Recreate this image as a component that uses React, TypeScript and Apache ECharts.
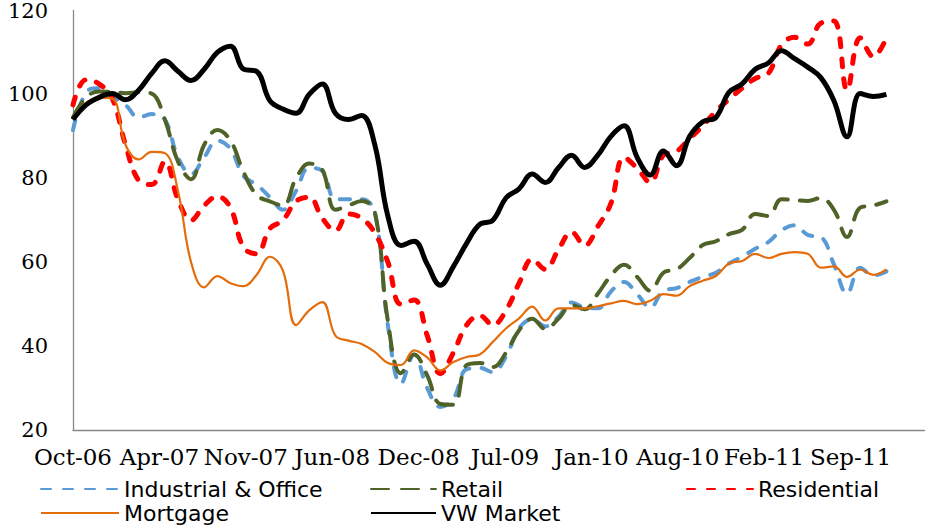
import React, { useEffect, useRef } from "react";
import * as echarts from "echarts";

// Monthly index values, Oct-06 (index 0) .. Dec-11 (index 62)
const industrialOffice = [
  91.5, 100.5, 101.5, 99.5, 97.5, 94.5, 95.3, 94, 85, 81,
  85, 89, 87, 80.5, 78.5, 75.5, 72.5, 77, 82.5, 81.8,
  75, 75, 75, 72, 45, 31, 38, 30, 25.5, 27.5,
  34.5, 34.8, 33.8, 37.5, 44.2, 46.4, 44.7, 47, 50.4, 49.2,
  49, 53, 55.3, 52.4, 49.2, 53.2, 53.8, 55.3, 56.5, 57.5,
  59.7, 61.3, 63.2, 64.8, 67.6, 68.8, 66.5, 66, 59.5, 52.5,
  58.7, 56.8, 57.8,
];
const retail = [
  94.5, 99.3, 100.7, 100.6, 100.3, 100.5, 100.2, 94, 84, 79.8,
  88, 91.5, 89, 81.5, 76, 74.5, 73.5, 80, 83.5, 82,
  72.5, 73.5, 74.6, 72, 46, 33.5, 38, 33, 26.2, 26,
  35.5, 36, 35, 38.4, 43.8, 46.5, 44.1, 46.5, 49.8, 48.8,
  52.5, 56.8, 59.4, 56.5, 53.2, 57.5, 58.3, 61, 64.1, 65,
  66.7, 67.7, 71.5, 71, 75, 74.8, 74.6, 75.3, 72.5, 66,
  73, 73.5, 74.5,
];
const residential = [
  97.5, 103.5, 102.5, 99, 88, 79.5, 78.5, 84, 75, 70,
  73.5, 75.7, 73, 63.5, 62, 68, 70, 74.5, 75.5, 70.5,
  67.5, 71.5, 70.5, 67, 60, 50, 51, 42.5, 33.4, 38.5,
  45, 47.3, 45, 48.5, 55, 60.7, 58.3, 63, 67.2, 64,
  68.5, 74, 85, 82.4, 79, 85.5, 86.4, 89.5, 92.5, 96,
  98.8, 101.5, 103.8, 105, 111.8, 113.6, 112, 117, 117.5, 101,
  113.5, 109, 113.5,
];
const mortgage = [
  94.5, 98, 99.2, 99, 88, 84.5, 86.3, 86, 77, 60,
  54, 56.7, 55, 54.3, 57, 61.3, 58, 45, 48.5, 50.5,
  42.5, 41.3, 40.5, 38.6, 36, 35.5, 39, 37.3, 34.2, 36.2,
  37.4, 38, 41, 44.2, 46.6, 49.4, 46.1, 49, 49, 49,
  49.5, 50.2, 50.8, 50, 50.8, 52.4, 52, 54.3, 55.6, 56.7,
  59.7, 60.3, 62, 61, 62, 62.4, 62, 58.7, 59, 56.5,
  58.2, 57, 58.3,
];
const vwMarket = [
  94, 97.5, 99.3, 100.2, 98.7, 101, 105, 108, 105.5, 103.3,
  106, 110, 111.5, 106, 105.5, 98.5, 96.5, 95.5, 100, 102.5,
  95.5, 94, 95, 88, 71, 64, 65, 59.5, 54.5, 59,
  64.5, 69, 70, 75.3, 77.5, 81, 79, 82.5, 85.5, 82.6,
  85.5, 90, 92.5, 85, 80.8, 86.5, 83, 90, 93.5, 94.5,
  100.5, 102.5, 106, 107.5, 110.4, 108.5, 106.5, 104, 98.5, 89.9,
  100.2, 99.5, 100,
];

const xTickLabels = [
  "Oct-06", "Apr-07", "Nov-07", "Jun-08", "Dec-08",
  "Jul-09", "Jan-10", "Aug-10", "Feb-11", "Sep-11",
];
const yTicks = [20, 40, 60, 80, 100, 120];

const LABEL_STEP = 6.585; // months between tick labels
const X_MAX = 64.94;

const toPairs = (arr: number[]) => arr.map((v, i) => [i, v]);

export default function App() {
  const ref = useRef<HTMLDivElement>(null);

  useEffect(() => {
    if (!ref.current) return;
    const chart = echarts.init(ref.current, null, { renderer: "svg" });
    const legendText = { fontFamily: "DejaVu Sans", fontSize: 22, color: "#000", lineHeight: 24 };
    const legendItem = (name: string, left: number, top: number, w: number) => ({
      left, top, padding: 0, itemWidth: w, itemHeight: 14, itemGap: 0,
      itemStyle: { opacity: 0 },
      textStyle: legendText, data: [name],
    });
    chart.setOption({
      animation: false,
      backgroundColor: "#fff",
      grid: { left: 73, top: 7, right: 0, bottom: 97 },
      xAxis: {
        type: "value",
        min: 0,
        max: X_MAX,
        interval: LABEL_STEP,
        axisLine: { show: true, lineStyle: { color: "#888", width: 1.3 } },
        axisTick: { show: false },
        splitLine: { show: false },
        axisLabel: {
          fontFamily: "DejaVu Serif", fontSize: 23, color: "#000",
          margin: 15,
          showMaxLabel: false,
          formatter: (v: number) => {
            const k = Math.round(v / LABEL_STEP);
            if (Math.abs(v - k * LABEL_STEP) > 0.01) return "";
            return xTickLabels[k] ?? "";
          },
        },
      },
      yAxis: {
        type: "value",
        min: yTicks[0],
        max: yTicks[yTicks.length - 1],
        interval: 20,
        axisLine: { show: true, lineStyle: { color: "#888", width: 1.3 } },
        axisTick: { show: false },
        splitLine: { show: false },
        axisLabel: { fontFamily: "DejaVu Serif", fontSize: 21, color: "#000", margin: 25 },
      },
      legend: [
        legendItem("Industrial & Office", 40, 477, 78),
        legendItem("Mortgage", 40, 501, 78),
        legendItem("Retail", 370, 477, 65),
        legendItem("VW Market", 370, 501, 65),
        legendItem("Residential", 686, 477, 66),
      ],
      series: [
        {
          name: "Industrial & Office", type: "line", data: toPairs(industrialOffice),
          smooth: 0.4, showSymbol: false, symbol: "none",
          lineStyle: { color: "#5B9BD5", width: 4, type: [10, 12], cap: "round" },
          itemStyle: { color: "#5B9BD5" },
        },
        {
          name: "Retail", type: "line", data: toPairs(retail),
          smooth: 0.4, showSymbol: false, symbol: "none",
          lineStyle: { color: "#4F6228", width: 4, type: [18, 12], cap: "round" },
          itemStyle: { color: "#4F6228" },
        },
        {
          name: "Residential", type: "line", data: toPairs(residential),
          smooth: 0.4, showSymbol: false, symbol: "none",
          lineStyle: { color: "#FF0000", width: 5, type: [8, 12], cap: "round" },
          itemStyle: { color: "#FF0000" },
        },
        {
          name: "Mortgage", type: "line", data: toPairs(mortgage),
          smooth: 0.4, showSymbol: false, symbol: "none",
          lineStyle: { color: "#E46C0A", width: 2.2 },
          itemStyle: { color: "#E46C0A" },
        },
        {
          name: "VW Market", type: "line", data: toPairs(vwMarket),
          smooth: 0.4, showSymbol: false, symbol: "none",
          lineStyle: { color: "#000", width: 5 },
          itemStyle: { color: "#000" },
        },
      ],
    });
    return () => chart.dispose();
  }, []);

  return (
    <div
      ref={ref}
      style={{ position: "absolute", left: 0, top: 0, width: 925, height: 527 }}
    />
  );
}
